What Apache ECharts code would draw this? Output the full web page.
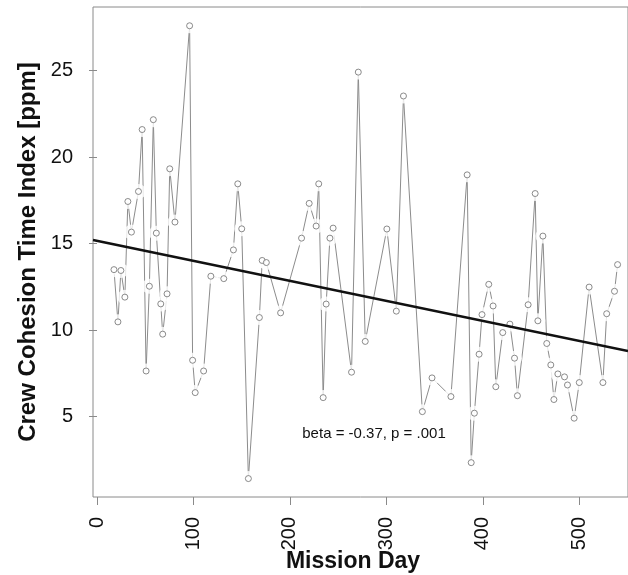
<!DOCTYPE html>
<html>
<head>
<meta charset="utf-8">
<script src="https://cdn.jsdelivr.net/npm/echarts@6/dist/echarts.min.js"></script>
<style>
html,body{margin:0;padding:0;background:#fff;}
#c{width:628px;height:575px;}
</style>
</head>
<body>
<div id="c"></div>
<script>
// Mission day of each observation
const days = [17.6, 21.7, 24.8, 28.9, 32.0, 35.7, 43.0, 46.8, 50.9, 54.3,
  58.4, 61.5, 66.1, 68.1, 72.6, 75.4, 80.8, 96.0, 99.1, 101.8,
  110.5, 118.0, 131.4, 141.4, 145.9, 150.0, 156.9, 168.3, 171.2, 175.5,
  190.3, 212.0, 219.9, 227.1, 229.8, 234.4, 237.5, 241.4, 244.7, 263.8,
  270.8, 278.0, 300.4, 310.2, 317.6, 337.2, 347.2, 366.8, 383.6, 387.8,
  391.1, 396.0, 399.0, 406.0, 410.5, 413.3, 420.5, 427.9, 432.7, 435.7,
  446.8, 454.1, 456.9, 462.1, 466.1, 470.3, 473.5, 477.6, 484.5, 487.6,
  494.5, 499.8, 510.0, 524.3, 528.2, 536.3, 539.5];
// Crew cohesion time index [ppm]
const values = [13.50, 10.48, 13.45, 11.91, 17.44, 15.67, 18.02, 21.60, 7.64, 12.54,
  22.17, 15.61, 11.52, 9.77, 12.10, 19.33, 16.25, 27.60, 8.26, 6.39,
  7.64, 13.12, 12.98, 14.64, 18.46, 15.86, 1.42, 10.73, 14.03, 13.91,
  11.00, 15.32, 17.33, 16.02, 18.46, 6.10, 11.51, 15.32, 15.90, 7.57,
  24.92, 9.35, 15.85, 11.10, 23.54, 5.29, 7.24, 6.16, 18.98, 2.34,
  5.20, 8.61, 10.90, 12.65, 11.40, 6.73, 9.86, 10.35, 8.38, 6.21,
  11.47, 17.90, 10.54, 15.44, 9.23, 7.99, 5.99, 7.47, 7.30, 6.83,
  4.91, 6.97, 12.49, 6.97, 10.95, 12.25, 13.79];
// Regression line end points
const regDays = [-4.13, 550.3];
const regVals = [15.21, 8.80];
// Tick labels
const xTicks = [0, 100, 200, 300, 400, 500];
const yTicks = [5, 10, 15, 20, 25];
const statText = 'beta = -0.37, p = .001';

const pts = days.map((d, i) => [d, values[i]]);
const reg = regDays.map((d, i) => [d, regVals[i]]);
const FONT = "'Liberation Sans', Arial, sans-serif";

const chart = echarts.init(document.getElementById('c'), null, {renderer: 'canvas'});
chart.setOption({
  animation: false,
  backgroundColor: '#fff',
  grid: {left: 93, right: -2, top: 7, bottom: 78, show: true, borderColor: '#8a8a8a', borderWidth: 1, backgroundColor: 'transparent'},
  xAxis: {
    type: 'value', min: regDays[0], max: regDays[1],
    axisLine: {show: false}, splitLine: {show: false},
    axisTick: {show: true, length: 8, customValues: xTicks, lineStyle: {color: '#8a8a8a', width: 1}},
    axisLabel: {customValues: xTicks, rotate: 90, margin: 20, fontSize: 20, color: '#111', fontFamily: FONT}
  },
  yAxis: {
    type: 'value', min: 0.354, max: 28.685,
    axisLine: {show: false}, splitLine: {show: false},
    axisTick: {show: true, length: 8, customValues: yTicks, lineStyle: {color: '#8a8a8a', width: 1}},
    axisLabel: {customValues: yTicks, margin: 20, fontSize: 20, color: '#111', fontFamily: FONT}
  },
  series: [
    {type: 'line', data: pts, symbol: 'none', lineStyle: {color: '#8c8c8c', width: 1}, z: 2, silent: true},
    {type: 'scatter', data: pts, symbol: 'circle', symbolSize: 15, itemStyle: {color: '#fff'}, z: 3, silent: true},
    {type: 'scatter', data: pts, symbol: 'circle', symbolSize: 6, itemStyle: {color: '#fff', borderColor: '#6e6e6e', borderWidth: 1}, z: 4, silent: true},
    {type: 'line', data: reg, symbol: 'none', lineStyle: {color: '#111', width: 2.5}, z: 5, silent: true}
  ],
  graphic: [
    {type: 'text', x: 28, y: 252, rotation: Math.PI / 2,
      style: {text: 'Crew Cohesion Time Index [ppm]', font: "bold 24px 'Liberation Sans', Arial, sans-serif", fill: '#111', textAlign: 'center', textVerticalAlign: 'middle'}},
    {type: 'text', x: 353, y: 562,
      style: {text: 'Mission Day', font: "bold 23px 'Liberation Sans', Arial, sans-serif", fill: '#111', textAlign: 'center', textVerticalAlign: 'middle'}},
    {type: 'text', x: 374, y: 434,
      style: {text: statText, font: "15px 'Liberation Sans', Arial, sans-serif", fill: '#111', textAlign: 'center', textVerticalAlign: 'middle'}}
  ]
});
</script>
</body>
</html>
